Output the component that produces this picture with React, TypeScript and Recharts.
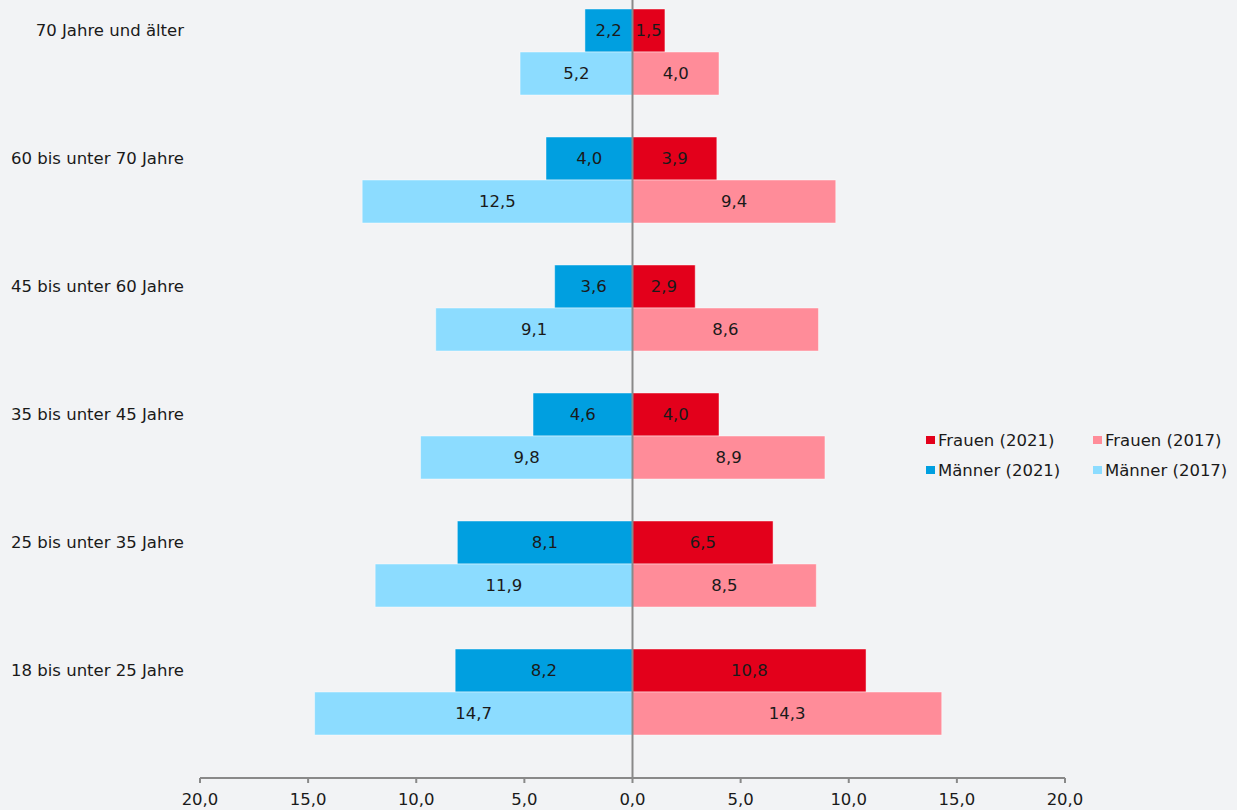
import { Bar, BarChart, LabelList, ReferenceLine, XAxis, YAxis } from "recharts";

const ageGroups = [
  "70 Jahre und älter",
  "60 bis unter 70 Jahre",
  "45 bis unter 60 Jahre",
  "35 bis unter 45 Jahre",
  "25 bis unter 35 Jahre",
  "18 bis unter 25 Jahre",
];
const maenner2021 = [2.2, 4.0, 3.6, 4.6, 8.1, 8.2];
const frauen2021 = [1.5, 3.9, 2.9, 4.0, 6.5, 10.8];
const maenner2017 = [5.2, 12.5, 9.1, 9.8, 11.9, 14.7];
const frauen2017 = [4.0, 9.4, 8.6, 8.9, 8.5, 14.3];
const xTicks = [-20, -15, -10, -5, 0, 5, 10, 15, 20];

const series = [
  { key: "m2021", name: "Männer (2021)", color: "#009fe0", stack: "y2021" },
  { key: "f2021", name: "Frauen (2021)", color: "#e3001b", stack: "y2021" },
  { key: "m2017", name: "Männer (2017)", color: "#8cdcff", stack: "y2017" },
  { key: "f2017", name: "Frauen (2017)", color: "#ff8c99", stack: "y2017" },
];
// legend order as in the picture (row by row)
const legendOrder = ["f2021", "f2017", "m2021", "m2017"];

const FONT = "'DejaVu Sans', Verdana, sans-serif";
const TEXT = "#1a1a1a";
const AXIS = "#898989";

const fmt = (v: number) => Math.abs(v).toFixed(1).replace(".", ",");

const AgeTick = (props: any) => {
  const { x, y, payload } = props;
  // label sits beside the 2021 bar (upper half of the band)
  return (
    <text x={x} y={y} dy={-21.5} dominantBaseline="central" textAnchor="end" fill={TEXT} fontSize={16.5} fontFamily={FONT}>
      {payload.value}
    </text>
  );
};

const App = () => {
  const data = ageGroups.map((group, i) => ({
    group,
    m2021: -maenner2021[i],
    f2021: frauen2021[i],
    m2017: -maenner2017[i],
    f2017: frauen2017[i],
  }));

  return (
    <div style={{ position: "absolute", left: 0, top: -20, width: 1237, height: 830, background: "#f2f3f5", fontFamily: FONT }}>
      <BarChart
        width={1237}
        height={830}
        data={data}
        layout="vertical"
        stackOffset="sign"
        barCategoryGap={21}
        barGap={0}
        margin={{ top: 8, right: 172, bottom: 0, left: 0 }}
      >
        <XAxis
          type="number"
          domain={[-20, 20]}
          ticks={xTicks}
          tickFormatter={fmt}
          height={32}
          axisLine={{ stroke: AXIS, strokeWidth: 2 }}
          tickLine={{ stroke: AXIS, strokeWidth: 2 }}
          tickSize={5}
          tickMargin={10}
          tick={{ fill: TEXT, fontSize: 16.5, fontFamily: FONT }}
          interval={0}
        />
        <YAxis
          type="category"
          dataKey="group"
          width={200}
          axisLine={false}
          tickLine={false}
          tickSize={0}
          tickMargin={16}
          padding={{ top: 0, bottom: 22 }}
          tick={<AgeTick />}
          interval={0}
        />
        {series.map((s) => (
          <Bar
            key={s.key}
            dataKey={s.key}
            name={s.name}
            stackId={s.stack}
            fill={s.color}
            stroke="#ffffff"
            strokeOpacity={0.45}
            strokeWidth={1}
            isAnimationActive={false}
          >
            <LabelList
              dataKey={s.key}
              position="center"
              formatter={(v: any) => fmt(Number(v))}
              fill={TEXT}
              fontSize={16.5}
              fontFamily={FONT}
            />
          </Bar>
        ))}
        <ReferenceLine x={0} stroke={AXIS} strokeWidth={2} />
      </BarChart>
      <div
        style={{
          position: "absolute",
          left: 926,
          top: 449,
          display: "grid",
          gridTemplateColumns: "167px auto",
          rowGap: 8,
          fontSize: 16.5,
          color: TEXT,
        }}
      >
        {legendOrder.map((k) => {
          const s = series.find((d) => d.key === k)!;
          return (
            <div key={k} style={{ display: "flex", alignItems: "center", height: 22 }}>
              <span style={{ width: 9, height: 8, background: s.color, marginRight: 3 }} />
              <span>{s.name}</span>
            </div>
          );
        })}
      </div>
    </div>
  );
};

export default App;
